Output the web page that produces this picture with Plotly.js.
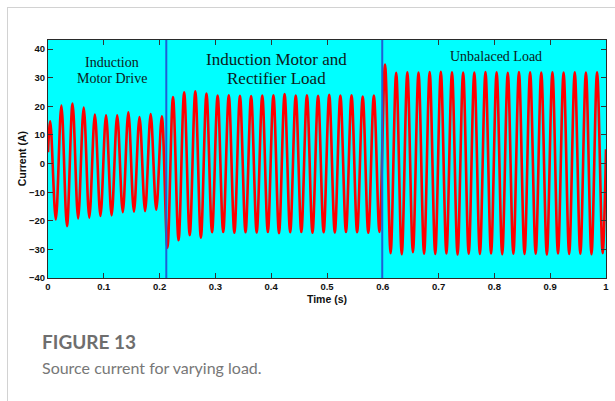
<!DOCTYPE html>
<html>
<head>
<meta charset="utf-8">
<script src="https://cdn.plot.ly/plotly-3.0.1.min.js"></script>
<style>
  html, body { margin: 0; padding: 0; background: #ffffff; }
  #wrap { position: relative; width: 615px; height: 401px; overflow: hidden; }
  #chart { position: absolute; left: 0; top: 0; width: 615px; height: 401px; }
  #frame { position: absolute; left: 7px; top: 7px; width: 700px; height: 500px;
           border-top: 1.5px solid #d2d2d2; border-left: 1.5px solid #d2d2d2;
           pointer-events: none; }
</style>
</head>
<body>
<div id="wrap">
  <div id="chart"></div>
  <div id="frame"></div>
</div>
<script>
// Source current: positive peaks and negative troughs of each 50 Hz cycle (A)
const peakTimes = [
  0.004, 0.024, 0.044, 0.064, 0.084, 0.104, 0.124, 0.144, 0.164, 0.184,
  0.204, 0.224, 0.244, 0.264, 0.284, 0.304, 0.324, 0.344, 0.364, 0.384,
  0.404, 0.424, 0.444, 0.464, 0.484, 0.504, 0.524, 0.544, 0.564, 0.584,
  0.604, 0.624, 0.644, 0.664, 0.684, 0.704, 0.724, 0.744, 0.764, 0.784,
  0.804, 0.824, 0.844, 0.864, 0.884, 0.904, 0.924, 0.944, 0.964, 0.984
];
const peakValues = [
  14.8, 20.3, 21.0, 19.6, 17.1, 16.9, 16.9, 17.9, 16.3, 17.3,
  16.5, 23.3, 24.9, 25.3, 24.5, 23.8, 23.9, 23.7, 23.6, 23.8,
  23.9, 24.3, 23.8, 23.9, 23.7, 24.0, 23.8, 23.9, 23.4, 23.8,
  34.6, 31.7, 31.9, 31.8, 32.0, 32.1, 31.9, 31.8, 31.8, 32.0,
  31.9, 31.7, 32.0, 31.9, 31.8, 31.9, 31.8, 31.9, 31.8, 31.9
];
const troughTimes = [
  0.014, 0.034, 0.054, 0.074, 0.094, 0.114, 0.134, 0.154, 0.174, 0.194,
  0.214, 0.234, 0.254, 0.274, 0.294, 0.314, 0.334, 0.354, 0.374, 0.394,
  0.414, 0.434, 0.454, 0.474, 0.494, 0.514, 0.534, 0.554, 0.574, 0.594,
  0.614, 0.634, 0.654, 0.674, 0.694, 0.714, 0.734, 0.754, 0.774, 0.794,
  0.814, 0.834, 0.854, 0.874, 0.894, 0.914, 0.934, 0.954, 0.974, 0.994
];
const troughValues = [
  -19.5, -21.9, -19.2, -18.9, -18.3, -18.1, -17.0, -16.8, -16.6, -16.1,
  -29.4, -26.8, -25.0, -25.9, -24.0, -23.9, -24.2, -24.0, -24.1, -23.9,
  -24.3, -24.0, -23.9, -24.2, -24.0, -24.1, -23.9, -24.0, -24.2, -23.9,
  -31.3, -31.7, -31.0, -31.5, -31.6, -31.4, -31.8, -31.5, -31.6, -31.4,
  -31.7, -31.5, -31.6, -31.5, -31.8, -31.4, -31.6, -31.5, -31.7, -31.3
];
// value at the start and the end of the record
const startPoint = [0.0, 4.0];
const endPoint = [1.0, 5.0];

// instants where the load changes (s)
const switchTimes = [0.212, 0.599];

// region labels
const regionLabels = [
  ["Induction", "Motor Drive"],
  ["Induction Motor and", "Rectifier Load"],
  ["Unbalaced Load"]
];

const xTicks = [0, 0.1, 0.2, 0.3, 0.4, 0.5, 0.6, 0.7, 0.8, 0.9, 1];
const xTickText = ["0", "0.1", "0.2", "0.3", "0.4", "0.5", "0.6", "0.7", "0.8", "0.9", "1"];
const yTicks = [-40, -30, -20, -10, 0, 10, 20, 30, 40];

const xTitle = "Time (s)";
const yTitle = "Current (A)";
const figureLabel = "FIGURE 13";
const figureCaption = "Source current for varying load.";

// merge peaks and troughs in time order
const t = [startPoint[0]];
const i = [startPoint[1]];
for (let k = 0; k < peakTimes.length; k++) {
  t.push(peakTimes[k]); i.push(peakValues[k]);
  t.push(troughTimes[k]); i.push(troughValues[k]);
}
t.push(endPoint[0]); i.push(endPoint[1]);

const trace = {
  x: t, y: i,
  type: "scatter", mode: "lines",
  line: { color: "#ff0000", width: 2.6, shape: "spline", smoothing: 1 },
  hoverinfo: "skip"
};

const shapes = switchTimes.map(s => ({
  type: "line", xref: "x", yref: "paper",
  x0: s, x1: s, y0: 0, y1: 1,
  line: { color: "#1f5fd6", width: 2 },
  layer: "above"
}));

const serif = "Liberation Serif, Times New Roman, serif";
const sans = "Liberation Sans, Arial, sans-serif";
const textColor = "#0d1a1a";
const labelPos = [
  { x: 0.115, ys: [35.5, 29.9], size: 14 },
  { x: 0.41, ys: [36.5, 29.9], size: 17 },
  { x: 0.8025, ys: [37.4], size: 14 }
];
const annotations = [];
regionLabels.forEach((lines, r) => {
  lines.forEach((txt, j) => {
    annotations.push({
      x: labelPos[r].x, y: labelPos[r].ys[j], xref: "x", yref: "y",
      text: txt, showarrow: false, xanchor: "center", yanchor: "middle",
      font: { family: serif, size: labelPos[r].size, color: textColor }
    });
  });
});
// y-axis title, placed close to the tick labels
annotations.push({
  x: -0.046, y: 0.5, xref: "paper", yref: "paper",
  text: yTitle, textangle: -90, showarrow: false,
  xanchor: "center", yanchor: "middle",
  font: { family: sans, size: 10.5, color: "#111111", weight: 700 }
});
annotations.push({
  x: -0.0138, y: -0.266, xref: "paper", yref: "paper",
  text: figureLabel, showarrow: false, xanchor: "left", yanchor: "middle",
  font: { family: "Lato, Noto Sans, sans-serif", size: 19, color: "#6e6e6e", weight: 700 }
});
annotations.push({
  x: -0.0138, y: -0.376, xref: "paper", yref: "paper",
  text: figureCaption, showarrow: false, xanchor: "left", yanchor: "middle",
  font: { family: "Lato, Noto Sans, sans-serif", size: 16, color: "#777777" }
});

const axisFont = { family: sans, size: 9.5, color: "#111111", weight: 700 };

const layout = {
  width: 615, height: 401,
  margin: { l: 48, r: 9, t: 40, b: 123, pad: 0 },
  paper_bgcolor: "rgba(0,0,0,0)",
  plot_bgcolor: "#00ffff",
  showlegend: false,
  xaxis: {
    range: [0, 1], tickvals: xTicks, ticktext: xTickText,
    ticks: "inside", ticklen: 5, tickwidth: 1, tickcolor: "#333333",
    showline: true, linecolor: "#2a2a2a", linewidth: 1, mirror: "ticks",
    showgrid: false, zeroline: false,
    tickfont: axisFont,
    title: { text: xTitle, standoff: 4,
             font: { family: sans, size: 10.5, color: "#111111", weight: 700 } }
  },
  yaxis: {
    range: [-40, 43.2], tickvals: yTicks,
    ticks: "inside", ticklen: 5, tickwidth: 1, tickcolor: "#333333",
    showline: true, linecolor: "#2a2a2a", linewidth: 1, mirror: "ticks",
    showgrid: false, zeroline: false,
    tickfont: axisFont
  },
  shapes: shapes,
  annotations: annotations
};

Plotly.newPlot("chart", [trace], layout, { displayModeBar: false, staticPlot: true });
</script>
</body>
</html>
